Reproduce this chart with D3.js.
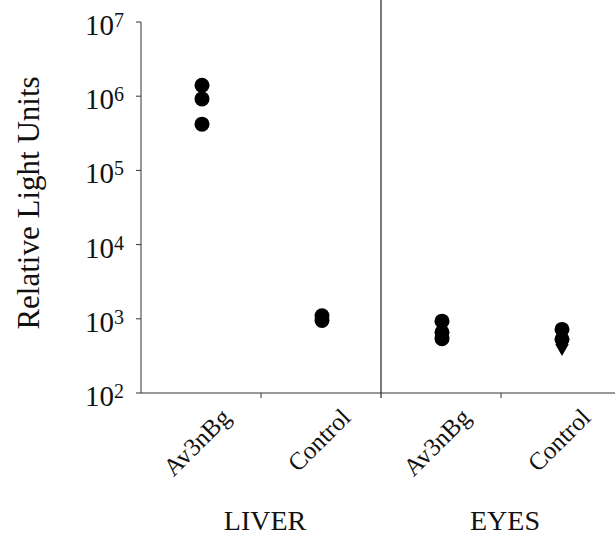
<!DOCTYPE html>
<html lang="en">
<head>
<meta charset="UTF-8">
<title></title>
<script src="https://d3js.org/d3.v7.min.js"></script>
<style>
body { margin: 0; background: #fff; }
text { font-family: "Liberation Serif", "DejaVu Serif", serif; fill: #111; }
</style>
</head>
<body>
<script>

var w = 615;
var h = 537;

// data
var groups = ["LIVER", "EYES"];
var categories = ["Av3nBg", "Control"];
var keys = ["LIVER-Av3nBg", "LIVER-Control", "EYES-Av3nBg", "EYES-Control"];
var liverAv3nBg = [1.4e6, 9.2e5, 4.2e5];
var liverControl = [1.1e3, 9.5e2];
var eyesAv3nBg = [9.3e2, 6.6e2, 5.4e2];
var eyesControl = [7.2e2, 5.3e2];
var eyesControlDiamond = [4.5e2];
var tickExps = [2, 3, 4, 5, 6, 7];

var svg = d3.select("body")
    .append("svg")
    .attr("width", w)
    .attr("height", h);

var y = d3.scaleLog()
    .domain([1e2, 1e7])
    .range([393, 22]);

var x = d3.scaleBand()
    .domain(keys)
    .range([141, 621])
    .padding(0);

var g = d3.scaleBand()
    .domain(groups)
    .range([141, 621]);

var ink = "#333";

// y axis line + ticks
svg.append("line")
    .attr("x1", 141).attr("x2", 141)
    .attr("y1", y(1e7)).attr("y2", y(1e2))
    .attr("stroke", ink);

svg.selectAll(".ytick")
    .data(tickExps)
    .enter()
    .append("line")
    .attr("x1", 136).attr("x2", 141)
    .attr("y1", function(d) {return y(Math.pow(10, d));})
    .attr("y2", function(d) {return y(Math.pow(10, d));})
    .attr("stroke", ink);

var lab = svg.selectAll(".ylab")
    .data(tickExps)
    .enter()
    .append("text")
    .attr("x", 124)
    .attr("y", function(d) {return y(Math.pow(10, d)) + 13;})
    .attr("text-anchor", "end")
    .attr("font-size", 29);
lab.append("tspan").text("10");
lab.append("tspan")
    .attr("font-size", 20)
    .attr("dy", -8)
    .text(function(d) {return d;});

svg.append("text")
    .attr("transform", "translate(39,203) rotate(-90)")
    .attr("text-anchor", "middle")
    .attr("font-size", 31)
    .text("Relative Light Units");

// x axis
svg.append("line")
    .attr("x1", 141).attr("x2", 621)
    .attr("y1", 393).attr("y2", 393)
    .attr("stroke", ink);

svg.selectAll(".xtick")
    .data(["LIVER-Control", "EYES-Control"])
    .enter()
    .append("line")
    .attr("x1", function(d) {return x(d);})
    .attr("x2", function(d) {return x(d);})
    .attr("y1", 393).attr("y2", 398)
    .attr("stroke", ink);

// divider
svg.append("line")
    .attr("x1", g("EYES")).attr("x2", g("EYES"))
    .attr("y1", 0).attr("y2", 398)
    .attr("stroke", ink)
    .attr("stroke-width", 1.3);

// category labels
svg.selectAll(".xlab")
    .data(keys)
    .enter()
    .append("text")
    .attr("transform", function(d) {
        return "translate(" + (x(d) + x.bandwidth() / 2 + 31) + ",419) rotate(-45)";
    })
    .attr("text-anchor", "end")
    .attr("font-size", 25)
    .text(function(d) {return d.split("-")[1];});

svg.selectAll(".glab")
    .data(groups)
    .enter()
    .append("text")
    .attr("x", function(d) {return g(d) + g.bandwidth() / 2 + 4;})
    .attr("y", 530)
    .attr("text-anchor", "middle")
    .attr("font-size", 28)
    .text(function(d) {return d;});

// points
var series = [
    {key: "LIVER-Av3nBg", values: liverAv3nBg},
    {key: "LIVER-Control", values: liverControl},
    {key: "EYES-Av3nBg", values: eyesAv3nBg},
    {key: "EYES-Control", values: eyesControl}
];

series.forEach(function(s) {
    svg.selectAll(null)
        .data(s.values)
        .enter()
        .append("circle")
        .attr("cx", x(s.key) + x.bandwidth() / 2 + 1)
        .attr("cy", function(d) {return y(d);})
        .attr("r", 7.5)
        .attr("fill", "#000");
});

svg.selectAll(".diamond")
    .data(eyesControlDiamond)
    .enter()
    .append("path")
    .attr("d", d3.symbol().type(d3.symbolDiamond).size(150))
    .attr("transform", function(d) {
        return "translate(" + (x("EYES-Control") + x.bandwidth() / 2 + 1) + "," + y(d) + ")";
    })
    .attr("fill", "#000");

</script>
</body>
</html>
